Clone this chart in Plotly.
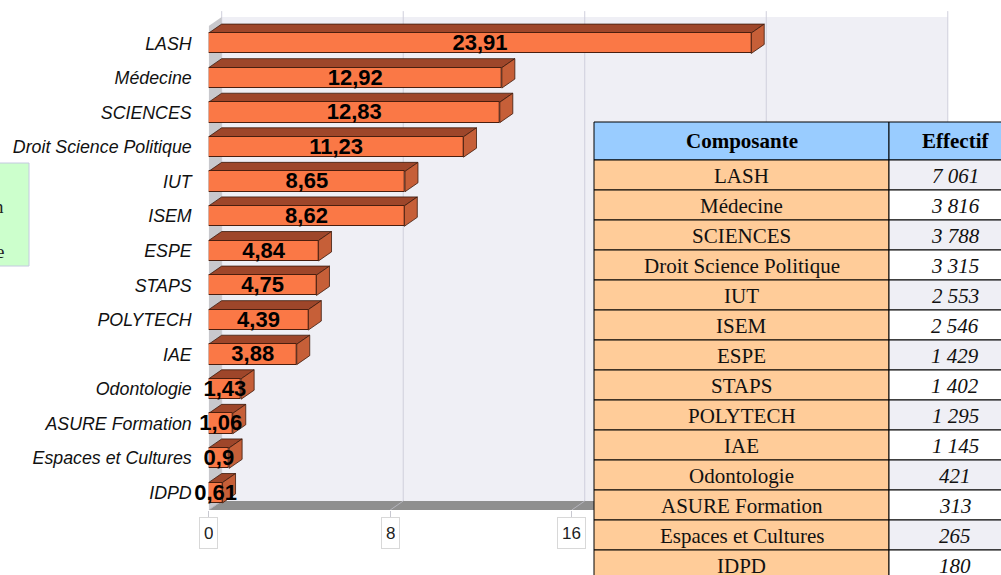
import plotly.graph_objects as go

categories = ["LASH", "Médecine", "SCIENCES", "Droit Science Politique", "IUT", "ISEM",
              "ESPE", "STAPS", "POLYTECH", "IAE", "Odontologie", "ASURE Formation",
              "Espaces et Cultures", "IDPD"]
percent = [23.91, 12.92, 12.83, 11.23, 8.65, 8.62, 4.84, 4.75, 4.39, 3.88, 1.43, 1.06, 0.9, 0.61]
effectif = [7061, 3816, 3788, 3315, 2553, 2546, 1429, 1402, 1295, 1145, 421, 313, 265, 180]
x_ticks = [0, 8, 16, 24, 32]
table_header = ["Composante", "Effectif"]

W, H = 1001, 575
X0_PX, UNIT_PX = 208.7, 22.69
Y_TOP_PX, ROW_PX, Y_BOT_PX = 26, 34.57, 510
DEPTH_X_PX, DEPTH_Y_PX = 13, 9
# table layout (pixels)
TAB_COLS_PX = [594, 889, 1021]
TAB_TOP_PX, TAB_HEAD_H, TAB_ROW_H = 122, 38, 30

n = len(categories)
dx = DEPTH_X_PX / UNIT_PX
dy = DEPTH_Y_PX / ROW_PX
half = 0.295
x_max = x_ticks[-1]
y_front_bot = n - 0.5
y_front_top = -0.5

shapes = []
# back wall
shapes.append(dict(type="rect", xref="x", yref="y", layer="below",
                   x0=dx, x1=x_max + dx, y0=y_front_top - dy, y1=y_front_bot - dy,
                   fillcolor="#efeff5", line=dict(width=0)))
# gridlines on back wall
for v in x_ticks:
    shapes.append(dict(type="line", xref="x", yref="y", layer="below",
                       x0=v + dx, x1=v + dx, y0=y_front_top - dy - 0.17, y1=y_front_bot - dy,
                       line=dict(color="#cfcfdc", width=1)))
# side wall
shapes.append(dict(type="path", xref="x", yref="y", layer="below",
                   path=f"M 0,{y_front_top} L {dx},{y_front_top - dy} L {dx},{y_front_bot - dy} L 0,{y_front_bot} Z",
                   fillcolor="#c8c8cc", line=dict(width=0)))
# floor
shapes.append(dict(type="path", xref="x", yref="y", layer="below",
                   path=f"M 0,{y_front_bot} L {x_max},{y_front_bot} L {x_max + dx},{y_front_bot - dy} L {dx},{y_front_bot - dy} Z",
                   fillcolor="#8f8f8f", line=dict(width=0)))
for v in x_ticks:
    shapes.append(dict(type="line", xref="x", yref="y", layer="below",
                       x0=v + dx, x1=v, y0=y_front_bot - dy, y1=y_front_bot,
                       line=dict(color="#b4b4bc", width=1)))

# 3D faces of bars
for i, v in enumerate(percent):
    t, b = i - half, i + half
    shapes.append(dict(type="path", xref="x", yref="y", layer="below",
                       path=f"M 0,{t} L {v},{t} L {v + dx},{t - dy} L {dx},{t - dy} Z",
                       fillcolor="#9e462a", line=dict(color="#3c1a0c", width=0.8)))
    shapes.append(dict(type="path", xref="x", yref="y", layer="below",
                       path=f"M {v},{t} L {v + dx},{t - dy} L {v + dx},{b - dy} L {v},{b} Z",
                       fillcolor="#c65f38", line=dict(color="#3c1a0c", width=0.8)))

# green box at left edge
shapes.append(dict(type="rect", xref="paper", yref="paper", layer="above",
                   x0=-0.02, x1=29 / W, y0=1 - 266 / H, y1=1 - 163 / H,
                   fillcolor="#ccffcc", line=dict(color="#c4cae0", width=1)))

annotations = []

# ---- table (drawn with paper shapes + text) ----
px = lambda p: p / W
py = lambda p: 1 - p / H
fmt = lambda k: f"{k:,}".replace(",", " ")
col_texts = [categories, ["<i>" + fmt(k) + "</i>" for k in effectif]]
col_fills = [["#ffcc99"] * n, ["#efeff5" if k % 2 == 0 else "#ffffff" for k in range(n)]]
for c in range(2):
    x0, x1 = TAB_COLS_PX[c], TAB_COLS_PX[c + 1]
    shapes.append(dict(type="rect", xref="paper", yref="paper", layer="above",
                       x0=px(x0), x1=px(x1), y0=py(TAB_TOP_PX + TAB_HEAD_H), y1=py(TAB_TOP_PX),
                       fillcolor="#99ccff", line=dict(color="black", width=1)))
    annotations.append(dict(x=px((x0 + x1) / 2), y=py(TAB_TOP_PX + TAB_HEAD_H / 2),
                            xref="paper", yref="paper", xanchor="center", yanchor="middle",
                            text="<b>" + table_header[c] + "</b>", showarrow=False,
                            font=dict(family="Liberation Serif", size=21, color="black")))
    for r in range(n):
        top = TAB_TOP_PX + TAB_HEAD_H + r * TAB_ROW_H
        shapes.append(dict(type="rect", xref="paper", yref="paper", layer="above",
                           x0=px(x0), x1=px(x1), y0=py(top + TAB_ROW_H), y1=py(top),
                           fillcolor=col_fills[c][r], line=dict(color="black", width=1)))
        annotations.append(dict(x=px((x0 + x1) / 2), y=py(top + TAB_ROW_H / 2 + 1),
                                xref="paper", yref="paper", xanchor="center", yanchor="middle",
                                text=col_texts[c][r], showarrow=False,
                                font=dict(family="Liberation Serif", size=21, color="#111")))

fig = go.Figure()
fig.add_trace(go.Bar(
    orientation="h", y=list(range(n)), x=percent, base=0, width=2 * half,
    marker=dict(color="#fa7846", line=dict(color="#4a1e0e", width=1)),
    hoverinfo="skip", showlegend=False))
fig.add_trace(go.Scatter(
    x=[v / 2 for v in percent], y=[i + 0.04 for i in range(n)], mode="text",
    text=["<b>" + str(v).replace(".", ",") + "</b>" for v in percent],
    textfont=dict(family="Liberation Sans", size=22, color="black"),
    cliponaxis=False, hoverinfo="skip", showlegend=False))

# x tick labels in small boxes (only those left of the table are visible)
for v in x_ticks:
    if X0_PX + v * UNIT_PX < TAB_COLS_PX[0]:
        annotations.append(dict(x=v, xref="x", y=py(533), yref="paper", text=str(v),
                                xanchor="center", yanchor="middle",
                                showarrow=False, font=dict(family="Liberation Sans", size=17, color="#222"),
                                bordercolor="#d8d8d8", borderwidth=1, borderpad=4, height=22))
for txt, ypx in [("n", 206), ("e", 251)]:
    annotations.append(dict(x=px(6), xref="paper", y=py(ypx), yref="paper", text=txt,
                            xanchor="right", yanchor="middle", showarrow=False,
                            font=dict(family="Liberation Serif", size=19, color="#222")))

fig.update_layout(
    width=W, height=H, margin=dict(l=0, r=0, t=0, b=0),
    paper_bgcolor="white", plot_bgcolor="white",
    shapes=shapes, annotations=annotations,
    xaxis=dict(domain=[X0_PX / W, 1], range=[0, (W - X0_PX) / UNIT_PX],
               showgrid=False, zeroline=False, showline=False,
               tickvals=x_ticks, ticks="outside", ticklen=7, tickcolor="#c8c8d0",
               showticklabels=False),
    yaxis=dict(domain=[(H - Y_BOT_PX) / H, 1],
               range=[y_front_bot, y_front_top - Y_TOP_PX / ROW_PX],
               showgrid=False, zeroline=False, showline=False,
               tickvals=list(range(n)), ticktext=categories, ticks="",
               ticklabelstandoff=16,
               tickfont=dict(family="Liberation Sans", size=17.8, color="#111", style="italic")),
    bargap=0,
)
fig.write_html("out.html", config={"displayModeBar": False},
               post_script="document.body.style.margin='0px';")
